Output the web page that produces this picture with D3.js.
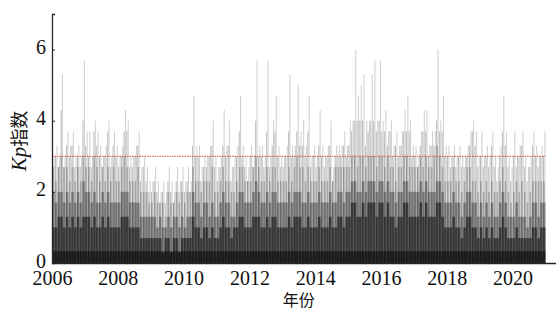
<!DOCTYPE html>
<html>
<head>
<meta charset="utf-8">
<script src="https://cdn.jsdelivr.net/npm/d3@7"></script>
<style>
  body { margin: 0; background: #fff; }
  svg { display: block; }
</style>
</head>
<body>
<div id="chart"></div>
<script>
// monthly values, 2006-01 .. 2020-12, one row per year
const years = d3.range(2006, 2021);
const xTicks = [2006, 2008, 2010, 2012, 2014, 2016, 2018, 2020];
const yTicks = [0, 2, 4, 6];
const threshold = 3;
const baseKp = 0.33;

// highest Kp reached in each month (faint spikes)
const peakKp = [
  3.0, 3.3, 3.0, 5.3, 3.0, 3.7, 3.3, 3.7, 3.0, 3.3, 3.0, 5.7,
  3.7, 3.7, 3.0, 4.0, 3.7, 3.3, 3.0, 3.3, 4.0, 3.0, 3.7, 3.3,
  3.0, 3.3, 4.3, 4.0, 3.0, 3.0, 3.3, 3.7, 2.7, 3.0, 2.7, 2.3,
  2.3, 2.7, 2.3, 2.0, 2.3, 2.0, 2.7, 2.3, 2.0, 2.7, 2.3, 2.7,
  2.3, 2.7, 2.3, 4.7, 3.3, 3.3, 2.7, 3.0, 3.0, 3.3, 4.0, 3.0,
  2.7, 3.0, 4.3, 3.3, 4.0, 2.7, 3.0, 3.3, 4.7, 3.3, 3.0, 2.7,
  3.3, 3.0, 5.7, 3.3, 3.3, 3.0, 5.7, 3.0, 4.0, 4.7, 3.3, 3.0,
  3.0, 3.3, 5.3, 3.3, 3.3, 5.0, 3.7, 4.0, 3.3, 4.7, 3.0, 3.3,
  3.0, 4.3, 3.3, 3.0, 3.3, 4.0, 2.7, 3.3, 3.3, 3.3, 3.7, 3.3,
  4.0, 4.0, 6.0, 4.7, 5.0, 5.3, 4.0, 4.0, 5.3, 5.7, 4.0, 5.7,
  4.0, 4.3, 3.7, 4.0, 3.3, 3.7, 3.3, 3.7, 4.3, 4.7, 4.0, 3.3,
  3.3, 3.0, 3.7, 4.3, 4.3, 3.3, 3.7, 3.7, 6.0, 4.0, 4.7, 3.3,
  3.3, 3.0, 3.3, 3.0, 3.3, 3.0, 3.0, 3.3, 3.7, 4.0, 3.7, 3.0,
  3.7, 3.0, 3.3, 3.0, 3.7, 3.0, 2.7, 3.3, 4.7, 3.7, 3.0, 2.7,
  3.7, 3.0, 3.3, 3.7, 3.0, 2.7, 3.0, 3.7, 3.3, 3.0, 3.3, 3.7
];

// second highest spike in each month
const secondKp = [
  2.7, 3.0, 2.7, 4.3, 2.7, 3.3, 3.0, 3.3, 2.7, 3.0, 2.7, 4.0,
  3.3, 3.0, 2.7, 3.7, 3.3, 3.0, 2.7, 3.0, 3.7, 2.7, 3.3, 3.0,
  2.7, 3.0, 3.7, 3.7, 2.7, 2.7, 3.0, 3.3, 2.3, 2.7, 2.3, 2.0,
  2.0, 2.3, 2.0, 1.7, 2.0, 1.7, 2.3, 2.0, 1.7, 2.3, 2.0, 2.3,
  2.0, 2.3, 2.0, 3.3, 3.0, 3.0, 2.3, 2.7, 2.7, 3.0, 3.3, 2.7,
  2.3, 2.7, 3.3, 3.0, 3.3, 2.3, 2.7, 3.0, 3.7, 3.0, 2.7, 2.3,
  3.0, 2.7, 4.0, 3.0, 3.0, 2.7, 3.7, 2.7, 3.3, 3.7, 3.0, 2.7,
  2.7, 3.0, 3.7, 3.0, 3.0, 3.7, 3.3, 3.3, 3.0, 3.7, 2.7, 3.0,
  2.7, 3.3, 3.0, 2.7, 3.0, 3.3, 2.3, 3.0, 3.0, 3.0, 3.3, 3.0,
  3.3, 3.7, 4.0, 4.0, 4.0, 4.0, 3.3, 3.7, 4.0, 4.0, 3.7, 4.0,
  3.7, 3.7, 3.3, 3.7, 3.0, 3.3, 3.0, 3.3, 3.7, 3.7, 3.7, 3.0,
  3.0, 2.7, 3.3, 3.7, 3.7, 3.0, 3.3, 3.3, 4.0, 3.7, 3.7, 3.0,
  3.0, 2.7, 3.0, 2.7, 3.0, 2.7, 2.7, 3.0, 3.3, 3.7, 3.3, 2.7,
  3.0, 2.7, 3.0, 2.7, 3.3, 2.7, 2.3, 3.0, 3.7, 3.3, 2.7, 2.3,
  3.0, 2.7, 3.0, 3.3, 2.7, 2.3, 2.7, 3.3, 3.0, 2.7, 3.0, 3.0
];

// level reached often (light grey band)
const upperKp = [
  2.7, 2.3, 2.7, 3.0, 2.7, 2.7, 2.3, 2.7, 2.3, 2.7, 2.3, 3.0,
  2.7, 2.7, 2.3, 3.0, 2.7, 2.3, 2.7, 2.3, 2.7, 2.3, 2.7, 2.3,
  2.3, 2.7, 3.0, 2.7, 2.3, 2.3, 2.3, 2.7, 2.0, 2.0, 2.0, 1.7,
  1.7, 2.0, 1.7, 1.7, 1.7, 1.3, 2.0, 1.7, 1.7, 2.0, 1.7, 2.0,
  1.7, 2.0, 2.0, 2.7, 2.3, 2.3, 2.0, 2.3, 2.3, 2.3, 2.7, 2.0,
  2.0, 2.3, 2.7, 2.3, 2.3, 2.0, 2.0, 2.3, 2.7, 2.7, 2.3, 2.3,
  2.3, 2.7, 3.0, 2.7, 2.3, 2.3, 2.7, 2.3, 2.7, 2.7, 2.3, 2.3,
  2.3, 2.3, 2.7, 2.3, 2.7, 3.0, 2.7, 2.7, 2.3, 2.7, 2.3, 2.3,
  2.3, 2.7, 2.3, 2.3, 2.3, 2.7, 2.3, 2.7, 2.7, 2.7, 2.7, 2.7,
  2.7, 3.0, 3.0, 2.7, 3.0, 3.0, 2.7, 3.0, 3.0, 3.0, 2.7, 3.0,
  3.0, 2.7, 3.0, 2.7, 2.7, 2.3, 2.7, 2.7, 3.0, 3.0, 2.7, 2.7,
  2.7, 2.7, 3.0, 2.7, 3.0, 2.7, 2.7, 3.0, 3.3, 3.0, 2.7, 2.3,
  2.3, 2.3, 2.7, 2.3, 2.3, 2.0, 2.3, 2.7, 2.7, 2.3, 2.3, 2.0,
  2.3, 2.0, 2.3, 2.0, 2.3, 2.0, 2.0, 2.3, 2.7, 2.3, 2.0, 1.7,
  2.0, 2.3, 2.0, 2.3, 2.0, 1.7, 2.0, 2.3, 2.3, 2.3, 2.3, 2.3
];

// typical level (mid grey band)
const middleKp = [
  2.0, 1.7, 2.0, 2.0, 1.7, 2.0, 1.7, 2.0, 1.7, 2.0, 1.7, 2.3,
  2.0, 2.0, 1.7, 2.0, 1.7, 1.7, 2.0, 1.7, 2.0, 1.7, 1.7, 1.7,
  1.7, 2.0, 2.0, 2.0, 1.7, 1.7, 1.7, 1.7, 1.3, 1.3, 1.3, 1.3,
  1.3, 1.3, 1.0, 1.3, 1.0, 1.0, 1.3, 1.0, 1.3, 1.3, 1.0, 1.3,
  1.0, 1.3, 1.3, 2.0, 1.7, 1.7, 1.3, 1.7, 1.7, 1.3, 1.7, 1.3,
  1.3, 1.7, 2.0, 1.7, 1.7, 1.3, 1.3, 1.7, 2.0, 2.0, 1.7, 1.7,
  1.7, 2.0, 2.3, 2.0, 1.7, 1.7, 2.0, 1.7, 2.0, 2.0, 1.7, 1.7,
  1.7, 1.7, 2.0, 1.7, 2.0, 2.0, 2.0, 1.7, 1.7, 2.0, 1.7, 1.7,
  1.7, 2.0, 1.7, 1.7, 1.7, 2.0, 1.7, 1.7, 2.0, 2.0, 1.7, 2.0,
  2.0, 2.3, 2.3, 2.0, 2.0, 2.3, 2.0, 2.3, 2.3, 2.3, 2.0, 2.3,
  2.3, 2.0, 2.3, 2.0, 2.0, 1.7, 2.0, 2.0, 2.3, 2.3, 2.0, 2.0,
  2.0, 2.0, 2.3, 2.0, 2.3, 2.0, 2.0, 2.0, 2.3, 2.3, 2.0, 1.7,
  1.7, 1.7, 2.0, 1.7, 1.7, 1.3, 1.7, 2.0, 2.0, 1.7, 1.7, 1.3,
  1.7, 1.3, 1.7, 1.3, 1.7, 1.3, 1.3, 1.7, 2.0, 1.7, 1.3, 1.3,
  1.3, 1.7, 1.3, 1.3, 1.3, 1.0, 1.3, 1.7, 1.7, 1.3, 1.7, 1.7
];

// quiet-time level (dark band)
const lowerKp = [
  1.0, 1.0, 1.3, 1.3, 1.0, 1.3, 1.0, 1.3, 1.0, 1.3, 1.0, 1.3,
  1.3, 1.3, 1.0, 1.3, 1.0, 1.0, 1.3, 1.0, 1.3, 1.0, 1.0, 1.0,
  1.0, 1.3, 1.3, 1.3, 1.0, 1.0, 1.0, 1.0, 0.7, 0.7, 0.7, 0.7,
  0.7, 0.7, 0.7, 0.7, 0.3, 0.7, 0.7, 0.3, 0.7, 0.7, 0.3, 0.7,
  0.7, 0.7, 0.7, 1.3, 1.0, 1.0, 0.7, 1.0, 1.0, 0.7, 1.0, 0.7,
  0.7, 1.0, 1.3, 1.0, 1.0, 0.7, 1.0, 1.0, 1.3, 1.3, 1.0, 1.0,
  1.0, 1.3, 1.3, 1.3, 1.0, 1.0, 1.3, 1.0, 1.3, 1.3, 1.0, 1.0,
  1.0, 1.0, 1.3, 1.0, 1.3, 1.3, 1.3, 1.0, 1.0, 1.3, 1.0, 1.0,
  1.0, 1.3, 1.0, 1.0, 1.0, 1.3, 1.0, 1.0, 1.3, 1.3, 1.0, 1.3,
  1.3, 1.7, 1.7, 1.3, 1.3, 1.7, 1.3, 1.7, 1.7, 1.7, 1.3, 1.7,
  1.7, 1.3, 1.7, 1.3, 1.3, 1.0, 1.3, 1.3, 1.7, 1.7, 1.3, 1.3,
  1.3, 1.3, 1.7, 1.3, 1.7, 1.3, 1.3, 1.3, 1.7, 1.7, 1.3, 1.0,
  1.0, 1.0, 1.3, 1.0, 1.0, 0.7, 1.0, 1.3, 1.3, 1.0, 1.0, 0.7,
  1.0, 0.7, 1.0, 0.7, 1.0, 0.7, 0.7, 1.0, 1.3, 1.0, 0.7, 0.7,
  0.7, 1.0, 0.7, 0.7, 0.7, 0.7, 0.7, 1.0, 1.0, 0.7, 1.0, 1.0
];

const width = 556, height = 312;
const margin = { top: 14, right: 0, bottom: 49, left: 52 };

const months = d3.range(years.length * 12).map((i) => ({
  t0: years[0] + i / 12,
  t1: years[0] + (i + 1) / 12,
  peak: peakKp[i],
  second: secondKp[i],
  upper: upperKp[i],
  middle: middleKp[i],
  lower: lowerKp[i],
}));

const svg = d3.select("#chart").append("svg")
  .attr("width", width)
  .attr("height", height);

const x = d3.scaleLinear().domain([2006, 2021.32]).range([margin.left, width - margin.right]);
const y = d3.scaleLinear().domain([0, 7]).range([height - margin.bottom, margin.top]);

// bands, light to dark; the upper one is narrower to leave gaps between months
const layers = [
  { key: "upper", opacity: 0.22, from: 0.15, to: 0.75 },
  { key: "middle", opacity: 0.32, from: 0, to: 1 },
  { key: "lower", opacity: 0.5, from: 0, to: 1 },
];
layers.forEach((l) => {
  svg.append("g").selectAll("rect")
    .data(months)
    .join("rect")
    .attr("x", (d) => x(d.t0 + (d.t1 - d.t0) * l.from))
    .attr("width", (d) => x(d.t0 + (d.t1 - d.t0) * l.to) - x(d.t0 + (d.t1 - d.t0) * l.from))
    .attr("y", (d) => y(d[l.key]))
    .attr("height", (d) => y(0) - y(d[l.key]))
    .attr("fill", "#000")
    .attr("fill-opacity", l.opacity);
});

svg.append("rect")
  .attr("x", x(2006))
  .attr("width", x(2021) - x(2006))
  .attr("y", y(baseKp))
  .attr("height", y(0) - y(baseKp))
  .attr("fill", "#000")
  .attr("fill-opacity", 0.5);

// spikes
const spikes = [
  { key: "second", at: 0.3, opacity: 0.3 },
  { key: "peak", at: 0.8, opacity: 0.22 },
];
spikes.forEach((s) => {
  svg.append("g").selectAll("line")
    .data(months)
    .join("line")
    .attr("x1", (d) => x(d.t0 + (d.t1 - d.t0) * s.at))
    .attr("x2", (d) => x(d.t0 + (d.t1 - d.t0) * s.at))
    .attr("y1", y(0))
    .attr("y2", (d) => y(d[s.key]))
    .attr("stroke", "#000")
    .attr("stroke-opacity", s.opacity)
    .attr("stroke-width", 0.9);
});

// storm threshold
svg.append("line")
  .attr("x1", x(2006)).attr("x2", x(2021))
  .attr("y1", y(threshold)).attr("y2", y(threshold))
  .attr("stroke", "#e0474c")
  .attr("stroke-width", 1)
  .attr("stroke-dasharray", "1.5,1");

// axes
const axisColor = "#262626";
const font = "'Liberation Serif', 'Times New Roman', serif";

const xAxis = svg.append("g")
  .attr("transform", `translate(0,${y(0)})`)
  .call(d3.axisBottom(x).tickValues(xTicks).tickFormat(d3.format("d")).tickSize(-3).tickSizeOuter(0).tickPadding(8));
const yAxis = svg.append("g")
  .attr("transform", `translate(${x(2006)},0)`)
  .call(d3.axisLeft(y).tickValues(yTicks).tickFormat(d3.format("d")).tickSize(-3).tickSizeOuter(-3).tickPadding(6));

[xAxis, yAxis].forEach((a) => {
  a.select(".domain").attr("stroke", axisColor).attr("stroke-width", 1.3);
  a.selectAll(".tick line").attr("stroke", axisColor);
  a.selectAll(".tick text")
    .attr("fill", "#111")
    .style("font-family", font)
    .style("font-size", "20px");
});
yAxis.selectAll(".tick text").attr("dy", "0.2em");

svg.append("text")
  .attr("x", (x(2006) + x(2021)) / 2)
  .attr("y", 306)
  .attr("text-anchor", "middle")
  .style("font-family", "'Noto Sans CJK SC', sans-serif")
  .style("font-size", "16px")
  .attr("fill", "#111")
  .text("年份");

const ylab = svg.append("text")
  .attr("transform", `translate(26,${141}) rotate(-90)`)
  .attr("text-anchor", "middle")
  .attr("fill", "#111");
ylab.append("tspan")
  .style("font-family", font)
  .style("font-style", "italic")
  .style("font-size", "21px")
  .text("Kp");
ylab.append("tspan")
  .style("font-family", "'Noto Sans CJK SC', sans-serif")
  .style("font-size", "18px")
  .text("指数");
</script>
</body>
</html>
